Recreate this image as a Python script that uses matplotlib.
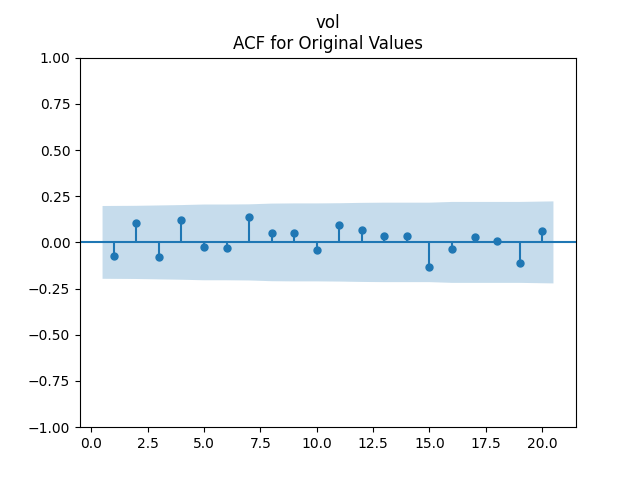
import numpy as np
import matplotlib
matplotlib.use('Agg')
import matplotlib.pyplot as plt

# autocorrelation of "vol", lags 1..20
lags = np.arange(1, 21)
acf_vals = [-0.076, 0.105, -0.080, 0.120, -0.025, -0.030, 0.140, 0.050, 0.050, -0.040,
            0.095, 0.068, 0.035, 0.035, -0.133, -0.035, 0.030, 0.008, -0.110, 0.062]
# half width of the 95% confidence band at each lag
band = [0.197, 0.198, 0.200, 0.202, 0.205, 0.205, 0.206, 0.210, 0.211, 0.211,
        0.212, 0.214, 0.215, 0.215, 0.215, 0.219, 0.219, 0.219, 0.219, 0.222]

fig, ax = plt.subplots(figsize=(6.4, 4.8), dpi=100)
ax.vlines(lags, [0], acf_vals)
ax.axhline()
ax.margins(0.05)
ax.plot(lags, acf_vals, marker='o', markersize=5, linestyle='None')
ax.set_title("vol\nACF for Original Values")
ax.set_ylim(-1, 1)

band_x = lags.astype(float)
band_x[0] -= 0.5
band_x[-1] += 0.5
band = np.array(band)
ax.fill_between(band_x, -band, band, alpha=0.25)

fig.savefig('out.png')
